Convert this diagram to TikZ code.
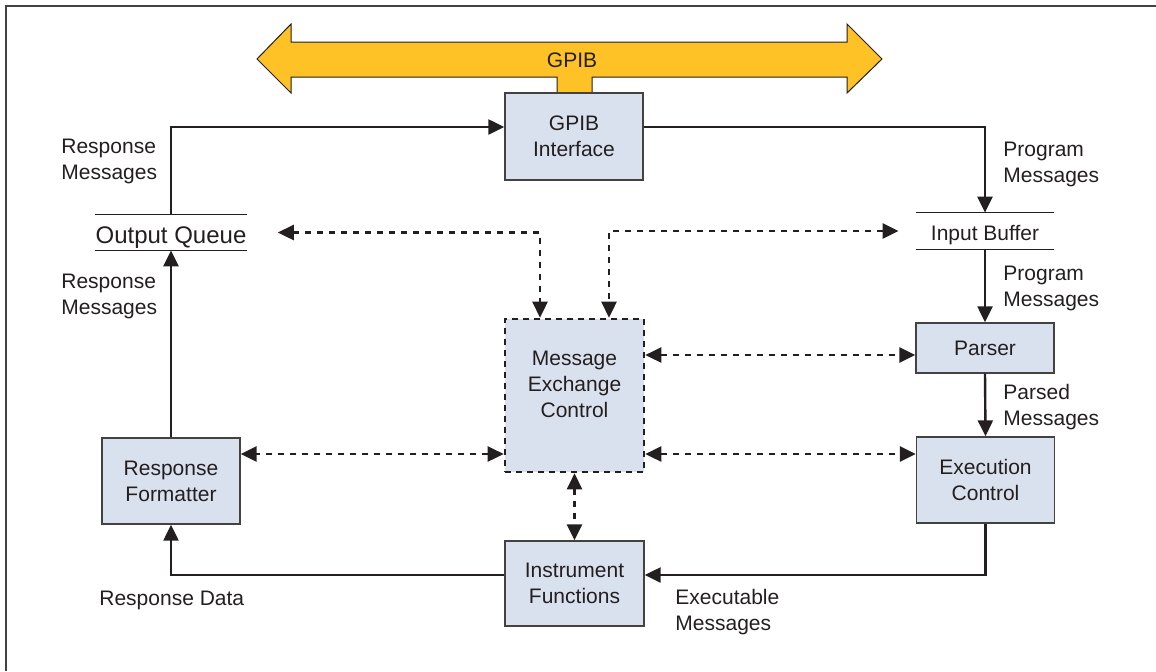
\documentclass[tikz,border=0pt]{standalone}
\usepackage{fontspec}
\setmainfont{Liberation Sans}
\usetikzlibrary{arrows.meta, positioning}
\definecolor{boxfill}{RGB}{218,225,238}
\definecolor{busyellow}{RGB}{254,194,38}
\definecolor{inkdark}{RGB}{35,31,32}

\begin{document}
\begin{tikzpicture}[x=0.5pt, y=-0.5pt,
   every node/.style={font=\fontsize{10.5}{13}\selectfont, text=inkdark},
   block/.style={draw=inkdark!85, line width=0.7pt, fill=boxfill, minimum width=69pt, minimum height=43pt, inner sep=0pt, align=center},
   queue/.style={minimum width=69pt, minimum height=18pt, inner sep=0pt, text height=9.5pt, text depth=0pt},
   flow/.style={draw=inkdark, line width=1.2pt, -{Triangle[length=8pt, width=7.5pt]}},
   talk/.style={draw=inkdark, line width=1.3pt, dash pattern=on 3pt off 3pt, {Triangle[length=8pt, width=7.5pt]}-{Triangle[length=8pt, width=7.5pt]}},
   lbl/.style={align=left, inner sep=0pt, anchor=west}]
   \useasboundingbox (0,0) rectangle (1156,671);
   \draw[line width=1pt, color=inkdark!85] (6,671) -- (6,6) -- (1156,6);

   % bus
   \draw[fill=busyellow, draw=inkdark, line width=0.5pt] (257,59) -- (291,24) -- (291,42) -- (847,42) -- (847,24) -- (882,59)
      -- (847,93) -- (847,77) -- (592,77) -- (592,93) -- (557,93) -- (557,77) -- (291,77) -- (291,93) -- cycle;
   \node (bus) at (572,60) {GPIB};

   % blocks
   \node[block, minimum height=43.5pt] (gpib) at (574,136.5) {GPIB\\Interface};
   \node[block, minimum width=69.5pt, minimum height=76.5pt, draw=inkdark, line width=1.3pt, dash pattern=on 3pt off 2.5pt] (mec) at (574.5,395.5) {};
   \node[align=center] (mectext) at (574.5,384) {Message\\Exchange\\Control};
   \node[block] (rf) at (171,481) {Response\\Formatter};
   \node[block, minimum width=69.5pt, minimum height=42.5pt] (ifn) at (574.5,583.5) {Instrument\\Functions};
   \node[block, minimum height=25pt] (parser) at (985,348) {Parser};
   \node[block] (exec) at (985.5,480) {Execution\\Control};
   \node[queue, minimum width=70pt, minimum height=17.5pt, text height=11pt, font=\fontsize{12}{14}\selectfont] (oq) at (171,232.5) {Output Queue};
   \node[queue] (ib) at (985,231) {Input Buffer};
   \draw[line width=0.6pt, color=inkdark] (oq.north west) -- (oq.north east) (oq.south west) -- (oq.south east);
   \draw[line width=0.6pt, color=inkdark] (ib.north west) -- (ib.north east) (ib.south west) -- (ib.south east);

   % message flow
   \draw[flow] (oq.north) |- ([yshift=4.75pt]gpib.west);
   \draw[flow] ([yshift=4.75pt]gpib.east) -| (ib.north);
   \draw[flow] (ib.south) -- (parser.north);
   \draw[flow] (parser.south) -- (exec.north);
   \draw[flow] (exec.south) |- ([yshift=4.25pt]ifn.east);
   \draw[flow] ([yshift=4.25pt]ifn.west) -| (rf.south);
   \draw[flow] (rf.north) -- (oq.south);

   % control exchange
   \coordinate (pin) at ([yshift=-3.5pt]parser.west);
   \coordinate (ein) at ([yshift=13pt]exec.west);
   \coordinate (rin) at ([yshift=13.5pt]rf.east);
   \draw[talk] ([xshift=15.5pt]oq.east) -| ([xshift=-17.25pt]mec.north);
   \draw[talk] ([xshift=-8.5pt]ib.west) -| ([xshift=17.25pt]mec.north);
   \draw[talk] (pin -| mec.east) -- (pin);
   \draw[talk] (ein -| mec.east) -- (ein);
   \draw[talk] (rin -| mec.west) -- (rin);
   \draw[talk] (mec.south) -- (ifn.north);

   % labels
   \node[lbl] (rm1) at (61,161) {Response\\Messages};
   \node[lbl] (rm2) at (61,296) {Response\\Messages};
   \node[lbl] (pm1) at (1003,164.5) {Program\\Messages};
   \node[lbl] (pm2) at (1003,288) {Program\\Messages};
   \node[lbl] (psm) at (1003,407.5) {Parsed\\Messages};
   \node[lbl] (rd) at (99,600) {Response Data};
   \node[lbl] (exm) at (675,612) {Executable\\Messages};
\end{tikzpicture}
\end{document}
